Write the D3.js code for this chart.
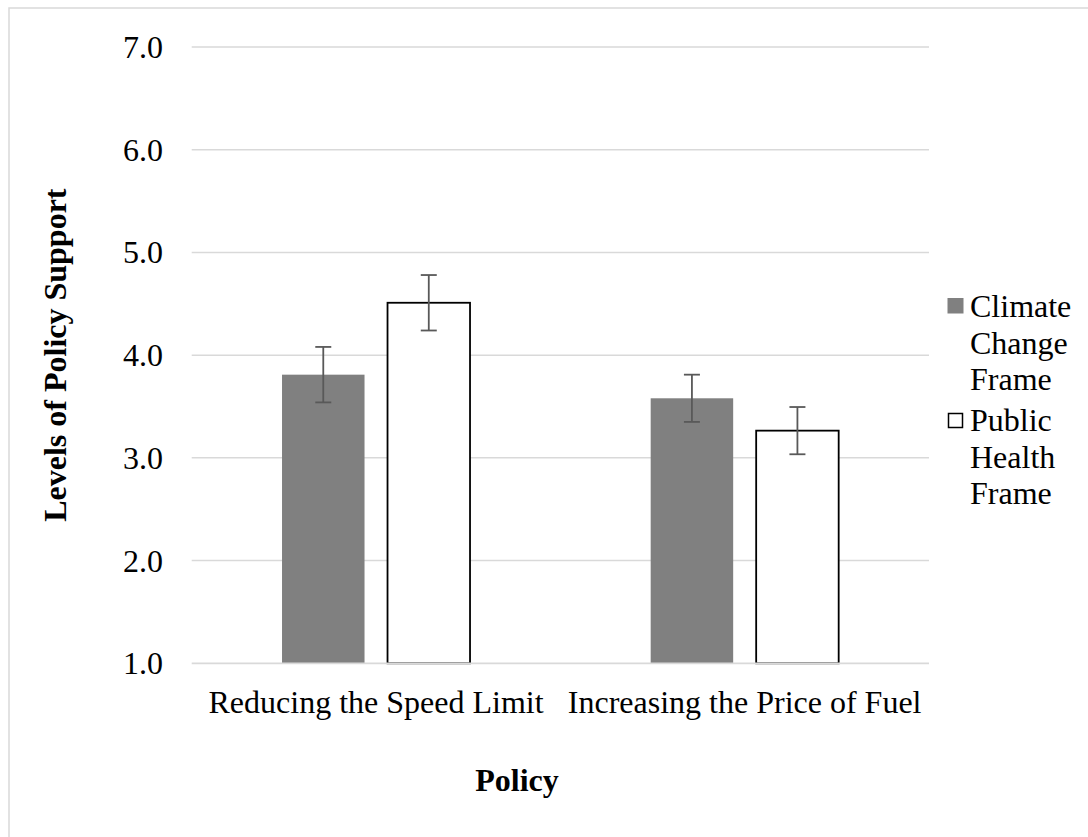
<!DOCTYPE html>
<html>
<head>
<meta charset="utf-8">
<script src="https://cdn.jsdelivr.net/npm/d3@7"></script>
<style>
  body { margin: 0; background: #fff; }
  text { font-family: "Liberation Serif", "Times New Roman", serif; fill: #000; }
</style>
</head>
<body>
<div id="chart"></div>
<script>
var policies = ["Reducing the Speed Limit", "Increasing the Price of Fuel"];
var frames = ["Climate Change Frame", "Public Health Frame"];
var climateMeans = [3.81, 3.58];
var healthMeans = [4.51, 3.265];
var climateErr = [0.27, 0.23];
var healthErr = [0.27, 0.23];
var yTicks = [1, 2, 3, 4, 5, 6, 7];

var svg = d3.select("#chart").append("svg").attr("width", 1088).attr("height", 837);

// chart area border (only top/left show in the picture)
svg.append("rect").attr("x", 9).attr("y", 8).attr("width", 1200).attr("height", 1000)
  .attr("fill", "none").attr("stroke", "#d9d9d9").attr("stroke-width", 1.5);

var plotLeft = 191.7, plotRight = 929, plotTop = 47, plotBottom = 663.3;

var x0 = d3.scaleBand().domain(policies).range([plotLeft, plotRight]);
var y = d3.scaleLinear().domain([1, 7]).range([plotBottom, plotTop]);

var series = [
  { name: frames[0], means: climateMeans, err: climateErr, fill: "#808080", stroke: "none" },
  { name: frames[1], means: healthMeans, err: healthErr, fill: "#fff", stroke: "#000" }
];

var barW = 82.5, gap = 23;
function barX(p, s) {
  var c = x0(p) + x0.bandwidth() / 2;
  return s === 0 ? c - gap / 2 - barW : c + gap / 2;
}

// gridlines
svg.append("g").selectAll("line").data(yTicks.slice(1)).enter().append("line")
  .attr("x1", plotLeft).attr("x2", plotRight)
  .attr("y1", function(d) { return y(d); }).attr("y2", function(d) { return y(d); })
  .attr("stroke", "#d9d9d9").attr("stroke-width", 1.5);

// y tick labels
svg.append("g").selectAll("text").data(yTicks).enter().append("text")
  .attr("x", 163).attr("y", function(d) { return y(d) + 11; })
  .attr("text-anchor", "end").attr("font-size", 32)
  .text(function(d) { return d.toFixed(1); });

// bars
series.forEach(function(s, si) {
  var g = svg.append("g");
  g.selectAll("rect").data(policies).enter().append("rect")
    .attr("x", function(p) { return barX(p, si); })
    .attr("y", function(p, i) { return y(s.means[i]); })
    .attr("width", barW)
    .attr("height", function(p, i) { return y(1) - y(s.means[i]); })
    .attr("fill", s.fill)
    .attr("stroke", s.stroke).attr("stroke-width", 1.8);

  // error bars
  policies.forEach(function(p, i) {
    var cx = barX(p, si) + barW / 2;
    var hi = y(s.means[i] + s.err[i]), lo = y(s.means[i] - s.err[i]);
    g.append("line").attr("x1", cx).attr("x2", cx).attr("y1", hi).attr("y2", lo)
      .attr("stroke", "#595959").attr("stroke-width", 1.8);
    [hi, lo].forEach(function(yy) {
      g.append("line").attr("x1", cx - 8).attr("x2", cx + 8).attr("y1", yy).attr("y2", yy)
        .attr("stroke", "#595959").attr("stroke-width", 1.8);
    });
  });
});

// horizontal axis line over the bar bottoms
svg.append("line").attr("x1", plotLeft).attr("x2", plotRight)
  .attr("y1", y(1)).attr("y2", y(1))
  .attr("stroke", "#d9d9d9").attr("stroke-width", 1.8);

// category labels
svg.append("g").selectAll("text").data(policies).enter().append("text")
  .attr("x", function(p) { return x0(p) + x0.bandwidth() / 2; })
  .attr("y", 713).attr("text-anchor", "middle").attr("font-size", 32)
  .text(function(p) { return p; });

// axis titles
svg.append("text").attr("x", 517).attr("y", 791).attr("text-anchor", "middle")
  .attr("font-size", 32).attr("font-weight", "bold").text("Policy");
svg.append("text").attr("transform", "translate(66," + ((plotTop + plotBottom) / 2) + ") rotate(-90)")
  .attr("text-anchor", "middle").attr("font-size", 32).attr("font-weight", "bold")
  .text("Levels of Policy Support");

// legend
var legendLines = [["Climate", "Change", "Frame"], ["Public", "Health", "Frame"]];
var legendY = [317, 431];
legendLines.forEach(function(lines, i) {
  var s = series[i];
  svg.append("rect").attr("x", i === 0 ? 947.5 : 948.5).attr("y", i === 0 ? 298 : 413.5)
    .attr("width", i === 0 ? 16 : 14).attr("height", i === 0 ? 15.5 : 14)
    .attr("fill", s.fill).attr("stroke", s.stroke).attr("stroke-width", 1.5);
  var t = svg.append("text").attr("x", 970).attr("y", legendY[i]).attr("font-size", 32);
  lines.forEach(function(l, j) {
    t.append("tspan").attr("x", 970).attr("y", legendY[i] + j * 36.7).text(l);
  });
});
</script>
</body>
</html>
